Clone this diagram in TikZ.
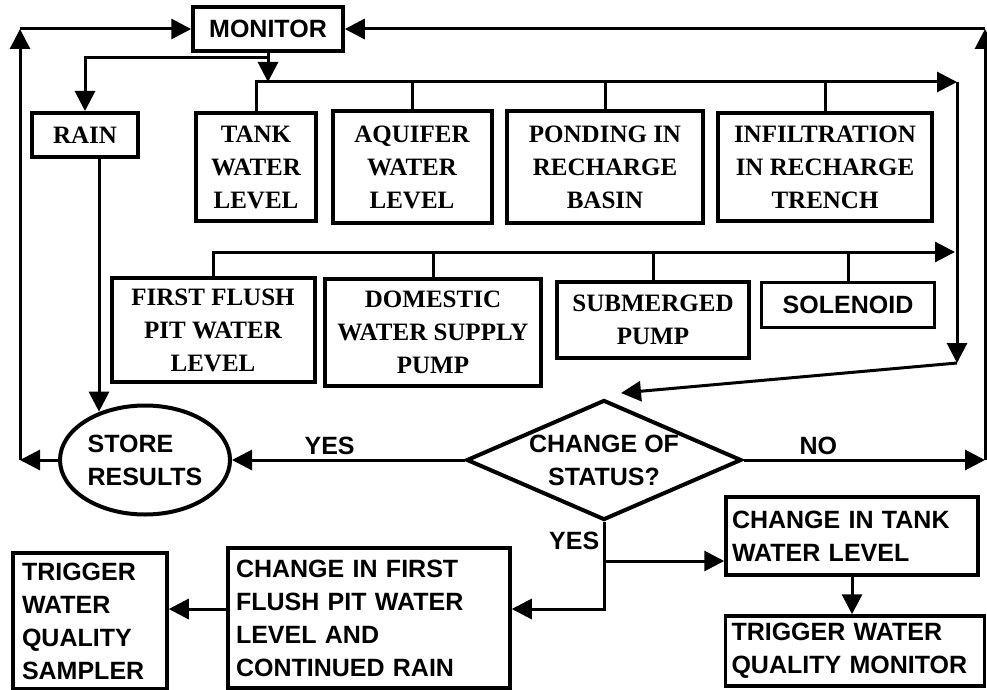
\documentclass[tikz,border=0pt]{standalone}
\usepackage{fontspec}
\setmainfont{Liberation Serif}
\setsansfont{Liberation Sans}
\usetikzlibrary{arrows.meta,shapes.geometric}
\tikzset{
  line/.style={line width=3pt},
  arr/.style={line, -{Triangle[length=20pt,width=20pt]}},
  lbl/.style={font=\fontsize{25}{33}\selectfont\sffamily\bfseries},
  serifbox/.style={draw, line width=4pt, inner sep=0pt, align=center, font=\fontsize{25}{33}\selectfont\bfseries},
  sansbox/.style={draw, line width=3.5pt, inner ysep=0pt, align=left, lbl}
}
\begin{document}
\begin{tikzpicture}[x=1pt,y=-1pt]
\useasboundingbox (0,0) rectangle (987,690);

\node[sansbox, align=center, inner sep=0pt, minimum width=150pt, minimum height=44pt] (monitor) at (268,29) {MONITOR};

\node[serifbox, minimum width=106pt, minimum height=44pt] (rain) at (85,135) {RAIN};
\node[serifbox, minimum width=120pt, minimum height=108pt] (tank) at (256,167) {TANK\\WATER\\LEVEL};
\node[serifbox, minimum width=159pt, minimum height=111pt] (aquifer) at (412,167) {AQUIFER\\WATER\\LEVEL};
\node[serifbox, minimum width=196pt, minimum height=111pt] (ponding) at (605,167) {PONDING IN\\RECHARGE\\BASIN};
\node[serifbox, minimum width=214pt, minimum height=108pt] (trench) at (825,167) {INFILTRATION\\IN RECHARGE\\TRENCH};

\node[serifbox, minimum width=203pt, minimum height=104pt] (pit) at (213,330) {FIRST FLUSH\\PIT WATER\\LEVEL};
\node[serifbox, minimum width=216pt, minimum height=107pt] (domestic) at (433,332) {DOMESTIC\\WATER SUPPLY\\PUMP};
\node[serifbox, minimum width=192pt, minimum height=76pt] (submerged) at (653,320) {SUBMERGED\\PUMP};
\node[sansbox, align=center, inner sep=0pt, minimum width=173pt, minimum height=45pt] (solenoid) at (848,305) {SOLENOID};

\node[draw, ellipse, line width=4pt, minimum width=170pt, minimum height=109pt, inner sep=0pt, align=left, lbl] (store) at (145,460) {STORE\\RESULTS};
\node[draw, diamond, aspect=2.29, line width=4pt, minimum width=275pt, minimum height=120pt, inner sep=0pt, align=center, lbl] (status) at (604,460) {CHANGE OF\\STATUS?};

\node[sansbox, text width=266pt, inner xsep=8pt, minimum height=140pt] (pitchange) at (369,618) {CHANGE IN FIRST\\FLUSH PIT WATER\\LEVEL AND\\CONTINUED RAIN};
\node[sansbox, text width=136pt, inner xsep=9pt, minimum height=136pt] (sampler) at (90,621) {TRIGGER\\WATER\\QUALITY\\SAMPLER};
\node[sansbox, text width=240pt, inner xsep=6pt, minimum height=78pt] (tankchange) at (852,536) {CHANGE IN TANK\\WATER LEVEL};
\node[sansbox, text width=247pt, inner xsep=6pt, minimum height=70pt] (wqmonitor) at (855,651) {TRIGGER WATER\\QUALITY MONITOR};

\coordinate (lt) at (20,29);
\coordinate (lb) at (20,460);
\coordinate (rt) at (985,29);
\coordinate (rb) at (985,460);
\coordinate (bus1) at (0,82);
\coordinate (bus1end) at (957,82);
\coordinate (rbot) at (957,363);
\coordinate (bus2) at (0,252);
\coordinate (bus2end) at (955,252);

\draw[arr] (store.west) -- (lb);
\draw[arr] (lb) -- (lt);
\draw[arr] (lt) -- (monitor.west);
\draw[arr] (status.east) -- node[lbl, pos=0.31, above]{NO} (rb);
\draw[arr] (rb) -- (rt);
\draw[arr] (rt) -- (monitor.east);

\draw[arr] (monitor.south) -- (monitor.south |- bus1);
\draw[arr] (monitor.south) -- ++(0,5) -| (rain.north);
\draw[arr] (tank.north) |- (bus1end);
\foreach \n in {aquifer,ponding,trench} \draw[line] (\n.north) -- (\n.north |- bus1);
\draw[arr] (bus1end) -- (rbot);
\draw[arr] (rbot) -- ([xshift=17pt,yshift=5pt]status.north);
\draw[arr] (pit.north) |- (bus2end);
\foreach \n in {domestic,submerged,solenoid} \draw[line] (\n.north) -- (\n.north |- bus2);

\draw[arr] ([xshift=14pt]rain.south) -- ([xshift=14pt]rain.south |- store.133);
\draw[arr] (status.west) -- node[lbl, pos=0.58, above]{YES} (store.east);
\draw[arr] (status.south) |- node[lbl, pos=0.11, left]{YES} ([yshift=9pt]pitchange.east);
\draw[arr] (status.south) |- ([yshift=-25pt]tankchange.west);
\draw[arr] ([yshift=9pt]pitchange.west) -- ([yshift=9pt]pitchange.west -| sampler.east);
\draw[arr] (tankchange.south) -- (tankchange.south |- wqmonitor.north);
\end{tikzpicture}
\end{document}
